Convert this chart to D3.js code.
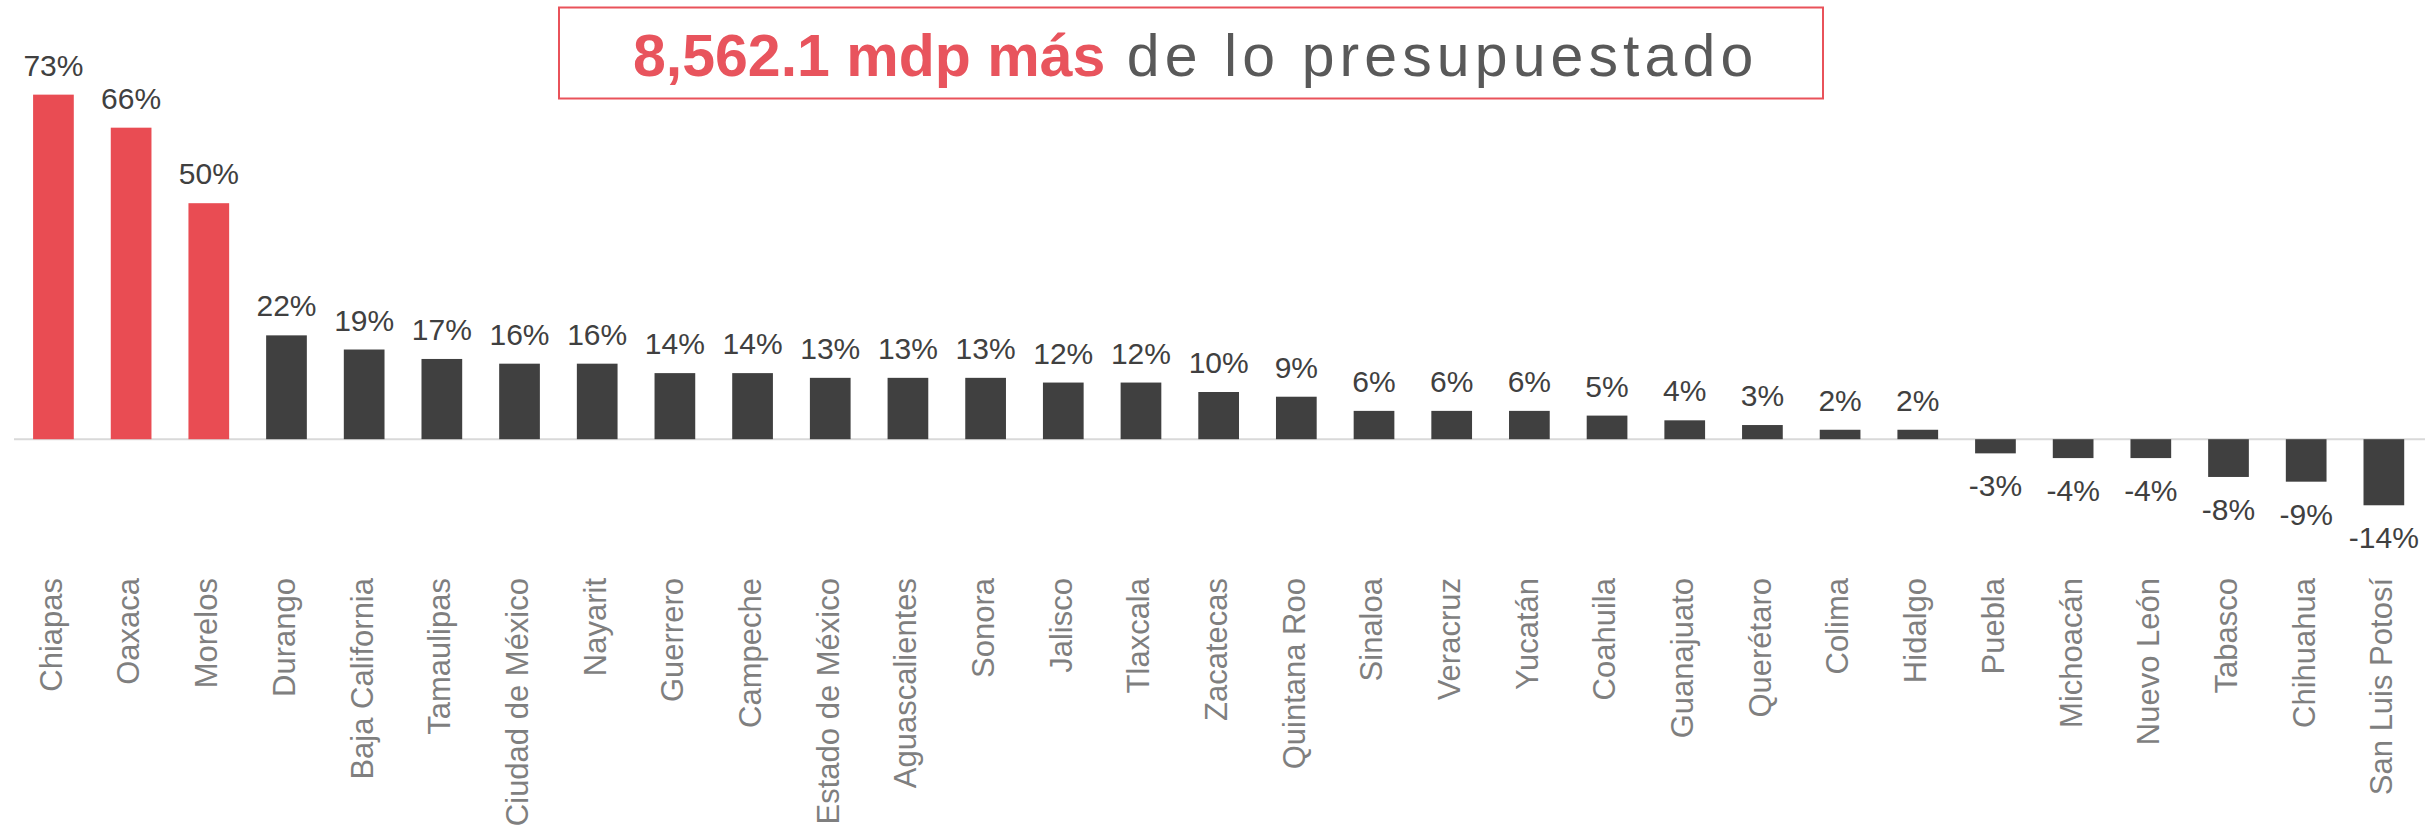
<!DOCTYPE html>
<html>
<head>
<meta charset="utf-8">
<script src="https://cdn.jsdelivr.net/npm/d3@7"></script>
<style>
  html, body { margin: 0; padding: 0; background: #ffffff; }
  svg { display: block; }
</style>
</head>
<body>
<svg id="chart" width="2425" height="836"></svg>
<script>
// Variación del gasto ejercido respecto a lo presupuestado, por entidad (%)
const estados = [
  "Chiapas", "Oaxaca", "Morelos", "Durango", "Baja California", "Tamaulipas",
  "Ciudad de México", "Nayarit", "Guerrero", "Campeche", "Estado de México",
  "Aguascalientes", "Sonora", "Jalisco", "Tlaxcala", "Zacatecas", "Quintana Roo",
  "Sinaloa", "Veracruz", "Yucatán", "Coahuila", "Guanajuato", "Querétaro",
  "Colima", "Hidalgo", "Puebla", "Michoacán", "Nuevo León", "Tabasco",
  "Chihuahua", "San Luis Potosí"
];
const variacion = [
  73, 66, 50, 22, 19, 17,
  16, 16, 14, 14, 13,
  13, 13, 12, 12, 10, 9,
  6, 6, 6, 5, 4, 3,
  2, 2, -3, -4, -4, -8,
  -9, -14
];
// Entidades resaltadas en rojo
const destacados = ["Chiapas", "Oaxaca", "Morelos"];
const tituloMonto = "8,562.1 mdp más";
const tituloResto = " de lo presupuestado";

const data = estados.map((e, i) => ({ estado: e, valor: variacion[i] }));

const svg = d3.select("#chart");
const FONT = "Liberation Sans, Arial, Helvetica, sans-serif";

const x = d3.scaleBand()
  .domain(estados)
  .range([14.6, 2422.7])
  .paddingInner(0.476)
  .paddingOuter(0.238);

const y = d3.scaleLinear()
  .domain([-20, 80])
  .range([439.2 + 20 * 4.72, 439.2 - 80 * 4.72]);

// Línea base en cero
svg.append("line")
  .attr("x1", 14).attr("x2", 2425)
  .attr("y1", y(0)).attr("y2", y(0))
  .attr("stroke", "#d9d9d9")
  .attr("stroke-width", 2);

// Barras
svg.append("g").selectAll("rect")
  .data(data)
  .join("rect")
  .attr("x", d => x(d.estado))
  .attr("width", x.bandwidth())
  .attr("y", d => y(Math.max(0, d.valor)))
  .attr("height", d => Math.abs(y(d.valor) - y(0)))
  .attr("fill", d => destacados.includes(d.estado) ? "#e94c53" : "#404040");

// Etiquetas de valor
svg.append("g").selectAll("text")
  .data(data)
  .join("text")
  .attr("x", d => x(d.estado) + x.bandwidth() / 2)
  .attr("y", d => d.valor >= 0 ? y(d.valor) - 19 : y(d.valor) + 43)
  .attr("text-anchor", "middle")
  .style("font-family", FONT)
  .style("font-size", "30px")
  .attr("fill", "#404040")
  .text(d => String(d.valor) + "%");

// Etiquetas de categoría (verticales)
const xAxis = d3.axisBottom(x).tickSize(0).tickPadding(0);
const axisG = svg.append("g")
  .attr("transform", "translate(0,578)")
  .call(xAxis);
axisG.select(".domain").remove();
axisG.selectAll(".tick text")
  .attr("transform", "rotate(-90)")
  .attr("x", 0)
  .attr("y", 0)
  .attr("dy", "0.27em")
  .attr("text-anchor", "end")
  .style("font-family", FONT)
  .style("font-size", "31px")
  .attr("fill", "#7f7f7f");

// Recuadro del título
svg.append("rect")
  .attr("x", 559).attr("y", 7.5)
  .attr("width", 1264).attr("height", 91)
  .attr("fill", "#ffffff")
  .attr("stroke", "#e9525a")
  .attr("stroke-width", 2);

const titulo = svg.append("text")
  .attr("x", 633)
  .attr("y", 76)
  .style("font-family", FONT)
  .style("font-size", "59px");
titulo.append("tspan")
  .attr("font-weight", "bold")
  .attr("fill", "#e8545d")
  .text(tituloMonto);
titulo.append("tspan")
  .attr("fill", "#595959")
  .attr("letter-spacing", "5.1px")
  .text(tituloResto);
</script>
</body>
</html>
